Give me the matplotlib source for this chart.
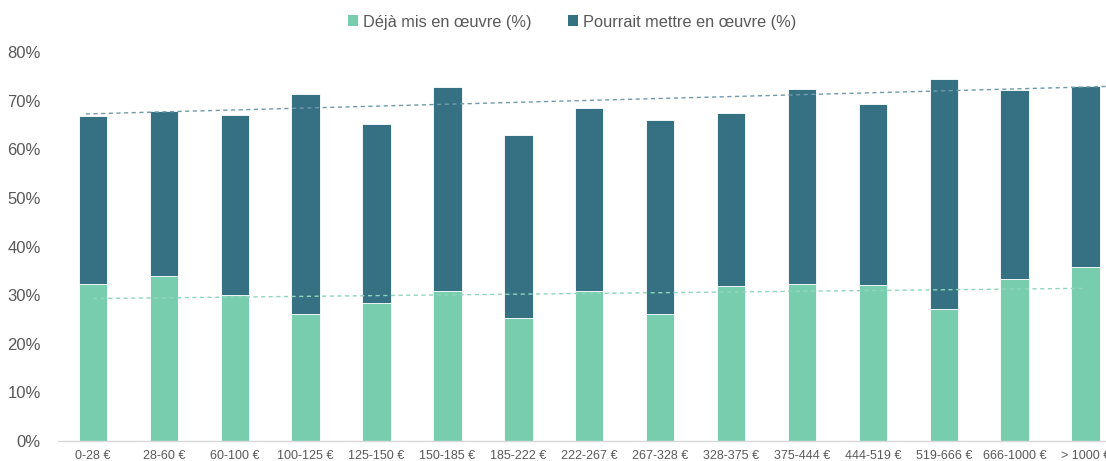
import matplotlib
matplotlib.use("Agg")
import matplotlib.pyplot as plt
from matplotlib.patches import Patch
import numpy as np

plt.rcParams['font.family'] = ['Liberation Sans', 'DejaVu Sans']

categories = ["0-28 €", "28-60 €", "60-100 €", "100-125 €", "125-150 €", "150-185 €",
              "185-222 €", "222-267 €", "267-328 €", "328-375 €", "375-444 €",
              "444-519 €", "519-666 €", "666-1000 €", "> 1000 €"]
deja = [32.2, 33.9, 30.0, 26.2, 28.4, 30.8, 25.2, 30.9, 26.1, 31.9, 32.2, 32.0, 27.1, 33.3, 35.8]
pourrait = [34.7, 33.9, 37.1, 45.1, 36.8, 42.1, 37.7, 37.6, 39.9, 35.5, 40.1, 37.3, 47.4, 38.9, 37.2]
# trend line values (first and last category)
trend_deja = [29.3, 31.4]
trend_total = [67.3, 72.8]

yticks = [0, 10, 20, 30, 40, 50, 60, 70, 80]
labels_series = ["Déjà mis en œuvre (%)", "Pourrait mettre en œuvre (%)"]

green = "#78CDAF"
dark = "#367183"

fig = plt.figure(figsize=(11.06, 4.61), dpi=100)
ax = fig.add_axes([57.5 / 1106, 1 - 441 / 461, (1121 - 57.5) / 1106, (441 - 52) / 461])

x = np.arange(len(categories))
ax.bar(x, deja, width=0.4, color=green, edgecolor="white", linewidth=0.6, zorder=2)
ax.bar(x, pourrait, width=0.4, bottom=deja, color=dark, edgecolor="white", linewidth=0.6, zorder=2)

xt = [x[0], x[-1]]
ax.plot(xt, trend_deja, linestyle=(0, (3, 2.5)), color="#8ed6bd", linewidth=1.0, zorder=3)
ax.plot([x[0] - 0.1, x[-1] + 0.3],
        [trend_total[0] - 0.1 * (trend_total[1] - trend_total[0]) / 14,
         trend_total[1] + 0.3 * (trend_total[1] - trend_total[0]) / 14],
        linestyle=(0, (3, 2.5)), color="#6f9aab", linewidth=1.0, zorder=3)

ax.set_xlim(-0.5, len(categories) - 0.5)
ax.set_ylim(0, 80)
ax.set_yticks(yticks)
ax.set_yticklabels([f"{v}%" for v in yticks])
ax.set_xticks(x)
ax.set_xticklabels(categories)

for s in ["top", "right", "left"]:
    ax.spines[s].set_visible(False)
ax.spines["bottom"].set_color("#d9d9d9")
ax.spines["bottom"].set_linewidth(1.0)

ax.tick_params(axis="y", length=0, labelsize=12, labelcolor="#595959", pad=12)
ax.tick_params(axis="x", length=0, labelsize=9, labelcolor="#595959", pad=6.5)

handles = [Patch(facecolor=green, edgecolor="none"), Patch(facecolor=dark, edgecolor="none")]
fig.legend(handles, labels_series, loc="center", bbox_to_anchor=(572 / 1106, 1 - 22 / 461),
           ncol=2, frameon=False, fontsize=11.8, labelcolor="#595959",
           handlelength=0.65, handleheight=0.65, handletextpad=0.3, columnspacing=2.2)

fig.savefig("out.png", dpi=100)
